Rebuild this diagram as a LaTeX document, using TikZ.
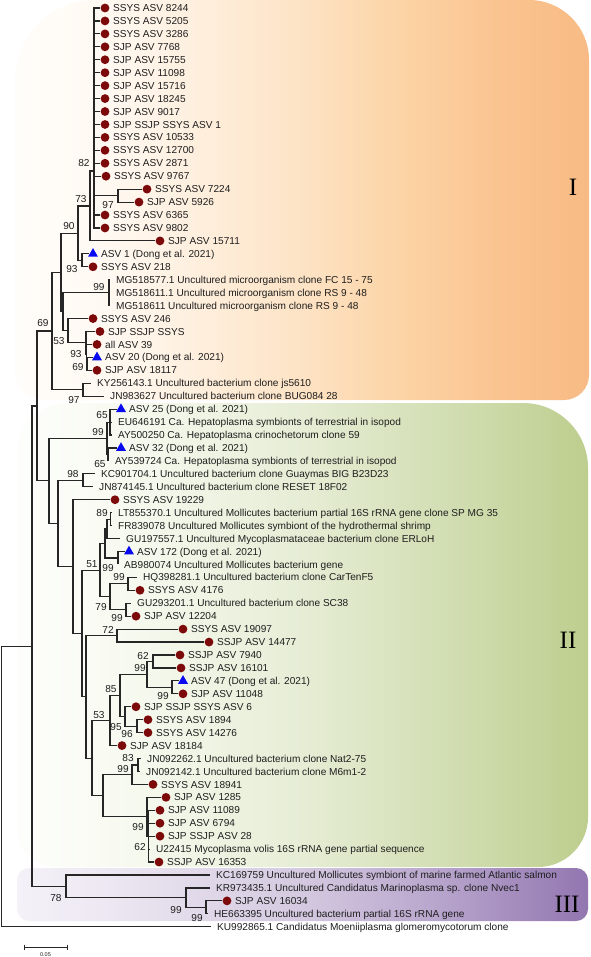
\documentclass[tikz,border=0pt]{standalone}
\usepackage{fontspec}
\setmainfont{Liberation Sans}
\newfontfamily\romanfont{Liberation Serif}
\usetikzlibrary{shapes.geometric,calc}

\definecolor{linec}{HTML}{262626}
\definecolor{dotc}{HTML}{7D0A0A}
\definecolor{tric}{HTML}{0A0AF0}
\definecolor{txtc}{HTML}{1E1E1E}
% orange
\definecolor{oZ}{HTML}{FFFDFA}
\definecolor{oA}{HTML}{FFF9F2}
\definecolor{oB}{HTML}{FDE3C5}
\definecolor{oC}{HTML}{FCD4A6}
\definecolor{oD}{HTML}{FAC38F}
\definecolor{oE}{HTML}{F8BB85}
% green
\definecolor{gZ}{HTML}{FDFEFB}
\definecolor{gA}{HTML}{F9FBF3}
\definecolor{gB}{HTML}{E6EDD5}
\definecolor{gC}{HTML}{D6E1BA}
\definecolor{gD}{HTML}{CAD8A5}
\definecolor{gE}{HTML}{BDCE8E}
% purple
\definecolor{pZ}{HTML}{F4F1F8}
\definecolor{pA}{HTML}{EDE8F2}
\definecolor{pB}{HTML}{D4C9E0}
\definecolor{pC}{HTML}{B6A3CB}
\definecolor{pE}{HTML}{9276B0}

\pgfdeclarehorizontalshading{shadeI}{100bp}{color(0bp)=(oZ); color(25bp)=(oZ); color(33bp)=(oA); color(50bp)=(oB); color(58.5bp)=(oC); color(67.5bp)=(oD); color(75bp)=(oE); color(100bp)=(oE)}
\pgfdeclarehorizontalshading{shadeII}{100bp}{color(0bp)=(gZ); color(25bp)=(gZ); color(32.5bp)=(gA); color(50bp)=(gB); color(60bp)=(gC); color(67.5bp)=(gD); color(75bp)=(gE); color(100bp)=(gE)}
\pgfdeclarehorizontalshading{shadeIII}{100bp}{color(0bp)=(pZ); color(25bp)=(pZ); color(32.5bp)=(pA); color(50bp)=(pB); color(62.5bp)=(pC); color(75bp)=(pE); color(100bp)=(pE)}

\tikzset{
  br/.style={draw=linec, line width=1.15pt},
  dotm/.style={circle, fill=dotc, inner sep=0pt, minimum size=8.8pt},
  trimark/.style={regular polygon, regular polygon sides=3, fill=tric, inner sep=0pt, minimum size=11.5pt},
  lbl/.style={anchor=west, inner xsep=0pt, inner ysep=0pt, text height=7.2pt, text depth=0pt, font=\fontsize{10.1}{12}\selectfont, text=txtc},
  bs/.style={inner sep=0pt, text height=7.2pt, text depth=0pt, font=\fontsize{10.1}{12}\selectfont, text=txtc},
  romanlbl/.style={font=\romanfont\fontsize{25}{30}\selectfont, text=black, inner sep=0pt}
}

\newcommand\LeafD[3]{\node[dotm] (m#1) at (#2,{8+(#1-1)*12.94}) {};
  \node[lbl] (t#1) at ({#2+8},{8+(#1-1)*12.94}) {#3};
  \coordinate (e#1) at (m#1.west);}
\newcommand\LeafT[3]{\node[trimark] (m#1) at (#2,{8+(#1-1)*12.94}) {};
  \node[lbl] (t#1) at ({#2+8},{8+(#1-1)*12.94}) {#3};
  \coordinate (e#1) at (m#1.west);}
\newcommand\LeafN[3]{\node[lbl,inner xsep=6pt] (t#1) at ({#2-6},{8+(#1-1)*12.94}) {#3};
  \coordinate (e#1) at (t#1.west);}
\newcommand\Int[4]{\path let \p1=(#3), \p2=(#4) in coordinate (#1) at (#2pt,{0.5*(\y1+\y2)});}
\newcommand\Kids[2]{\foreach \c in {#2} {\draw[br] (#1) |- (\c);}}
\newcommand\RBox[9]{\path[shading=#1] ({#2+#6},#3) -- ({#4-#7},#3) arc[start angle=270,end angle=360,radius=#7] -- (#4,{#5-#8}) arc[start angle=0,end angle=90,radius=#8] -- ({#2+#9},#5) arc[start angle=90,end angle=180,radius=#9] -- (#2,{#3+#6}) arc[start angle=180,end angle=270,radius=#6] -- cycle;}

\begin{document}
\begin{tikzpicture}[x=1pt,y=-1pt]
\fill[white] (0,0) rectangle (590,957);
\useasboundingbox (0,0) rectangle (590,957);

% clade boxes
\RBox{shadeI}{15}{0}{589}{400}{80}{60}{25}{30}
\RBox{shadeII}{17}{403}{588}{867}{50}{65}{50}{40}
\RBox{shadeIII}{17}{868}{588}{921}{12}{12}{12}{12}

% leaves
\LeafD{1}{105}{SSYS ASV 8244}
\LeafD{2}{105}{SSYS ASV 5205}
\LeafD{3}{105}{SSYS ASV 3286}
\LeafD{4}{105}{SJP ASV 7768}
\LeafD{5}{105}{SJP ASV 15755}
\LeafD{6}{105}{SJP ASV 11098}
\LeafD{7}{105}{SJP ASV 15716}
\LeafD{8}{105}{SJP ASV 18245}
\LeafD{9}{105}{SJP ASV 9017}
\LeafD{10}{105}{SJP SSJP SSYS ASV 1}
\LeafD{11}{105}{SSYS ASV 10533}
\LeafD{12}{105}{SSYS ASV 12700}
\LeafD{13}{105}{SSYS ASV 2871}
\LeafD{14}{106}{SSYS ASV 9767}
\LeafD{15}{147}{SSYS ASV 7224}
\LeafD{16}{139}{SJP ASV 5926}
\LeafD{17}{105}{SSYS ASV 6365}
\LeafD{18}{105}{SSYS ASV 9802}
\LeafD{19}{160}{SJP ASV 15711}
\LeafT{20}{93}{ASV 1 (Dong et al. 2021)}
\LeafD{21}{93}{SSYS ASV 218}
\LeafN{22}{116}{MG518577.1 Uncultured microorganism clone FC 15 - 75}
\LeafN{23}{116}{MG518611.1 Uncultured microorganism clone RS 9 - 48}
\LeafN{24}{116}{MG518611 Uncultured microorganism clone RS 9 - 48}
\LeafD{25}{93}{SSYS ASV 246}
\LeafD{26}{100}{SJP SSJP SSYS}
\LeafD{27}{97}{all ASV 39}
\LeafT{28}{97}{ASV 20 (Dong et al. 2021)}
\LeafD{29}{97}{SJP ASV 18117}
\LeafN{30}{97}{KY256143.1 Uncultured bacterium clone js5610}
\LeafN{31}{110}{JN983627 Uncultured bacterium clone BUG084 28}
\LeafT{32}{121}{ASV 25 (Dong et al. 2021)}
\LeafN{33}{118}{EU646191 Ca. Hepatoplasma symbionts of terrestrial in isopod}
\LeafN{34}{118}{AY500250 Ca. Hepatoplasma crinochetorum clone 59}
\LeafT{35}{121}{ASV 32 (Dong et al. 2021)}
\LeafN{36}{115}{AY539724 Ca. Hepatoplasma symbionts of terrestrial in isopod}
\LeafN{37}{101}{KC901704.1 Uncultured bacterium clone Guaymas BIG B23D23}
\LeafN{38}{99}{JN874145.1 Uncultured bacterium clone RESET 18F02}
\LeafD{39}{115}{SSYS ASV 19229}
\LeafN{40}{118}{LT855370.1 Uncultured Mollicutes bacterium partial 16S rRNA gene clone SP MG 35}
\LeafN{41}{118}{FR839078 Uncultured Mollicutes symbiont of the hydrothermal shrimp}
\LeafN{42}{126}{GU197557.1 Uncultured Mycoplasmataceae bacterium clone ERLoH}
\LeafT{43}{129}{ASV 172 (Dong et al. 2021)}
\LeafN{44}{124}{AB980074 Uncultured Mollicutes bacterium gene}
\LeafN{45}{143}{HQ398281.1 Uncultured bacterium clone CarTenF5}
\LeafD{46}{140}{SSYS ASV 4176}
\LeafN{47}{137}{GU293201.1 Uncultured bacterium clone SC38}
\LeafD{48}{136}{SJP ASV 12204}
\LeafD{49}{183}{SSYS ASV 19097}
\LeafD{50}{209}{SSJP ASV 14477}
\LeafD{51}{180}{SSJP ASV 7940}
\LeafD{52}{181}{SSJP ASV 16101}
\LeafT{53}{183}{ASV 47 (Dong et al. 2021)}
\LeafD{54}{183}{SJP ASV 11048}
\LeafD{55}{136}{SJP SSJP SSYS ASV 6}
\LeafD{56}{148}{SSYS ASV 1894}
\LeafD{57}{148}{SSYS ASV 14276}
\LeafD{58}{122}{SJP ASV 18184}
\LeafN{59}{147}{JN092262.1 Uncultured bacterium clone Nat2-75}
\LeafN{60}{146}{JN092142.1 Uncultured bacterium clone M6m1-2}
\LeafD{61}{153}{SSYS ASV 18941}
\LeafD{62}{166}{SJP ASV 1285}
\LeafD{63}{160}{SJP ASV 11089}
\LeafD{64}{160}{SJP ASV 6794}
\LeafD{65}{160}{SJP SSJP ASV 28}
\LeafN{66}{156}{U22415 Mycoplasma volis 16S rRNA gene partial sequence}
\LeafD{67}{159}{SSJP ASV 16353}
\LeafN{68}{216}{KC169759 Uncultured Mollicutes symbiont of marine farmed Atlantic salmon}
\LeafN{69}{216}{KR973435.1 Uncultured Candidatus Marinoplasma sp. clone Nvec1}
\LeafD{70}{227}{SJP ASV 16034}
\LeafN{71}{214}{HE663395 Uncultured bacterium partial 16S rRNA gene}
\LeafN{72}{217}{KU992865.1 Candidatus Moeniiplasma glomeromycotorum clone}

% internal nodes
\Int{N7224}{118}{e15}{e16}
\coordinate (P0) at (94,171);
\Int{N82}{90}{P0}{e19}
\Int{N93a}{82}{e20}{e21}
\Int{N73}{78}{N82}{N93a}
\Int{NMG}{109}{e22}{e24}
\Int{NC}{87}{e28}{e29}
\Int{NB}{86.5}{e27}{NC}
\Int{NA}{86}{e26}{NB}
\Int{N53}{68}{e25}{NA}
\Int{NCs}{63}{NMG}{N53}
\Int{N90}{61}{N73}{NCs}
\Int{NKY}{83}{e30}{e31}
\Int{N69}{52}{N90}{NKY}
\Int{N1}{110}{e32}{e34}
\Int{N2}{108}{e35}{e36}
\Int{N0}{107}{N1}{N2}
\Int{NKC}{83}{e37}{e38}
\Int{NLT}{110.5}{e40}{e41}
\Int{NGU}{107}{NLT}{e42}
\Int{N172}{118}{e43}{e44}
\Int{NA3}{105}{NGU}{N172}
\Int{NHQ}{128}{e45}{e46}
\Int{NGV}{126}{e47}{e48}
\Int{N79}{110}{NHQ}{NGV}
\Int{W}{100}{NA3}{N79}
\Int{N72}{117}{e49}{e50}
\Int{N62}{153}{e51}{e52}
\Int{N47}{172}{e53}{e54}
\Int{N99b}{147}{N62}{N47}
\Int{N96}{137}{e56}{e57}
\Int{N95}{125}{e55}{N96}
\Int{N85}{120}{N99b}{N95}
\Int{N53b}{110}{N85}{e58}
\Int{N83}{138}{e59}{e60}
\Int{N99c}{132}{N83}{e61}
\Int{NS2}{148.5}{e63}{e67}
\Int{NS1}{147}{e62}{NS2}
\Int{N103}{103}{N99c}{NS1}
\Int{N92}{92}{N53b}{N103}
\Int{N86}{86}{N72}{N92}
\Int{Z}{82}{W}{N86}
\Int{Y}{73}{e39}{Z}
\Int{X}{58}{NKC}{Y}
\Int{H}{49}{N0}{X}
\Int{Q}{37}{N69}{H}
\Int{N99e}{206}{e70}{e71}
\Int{N99d}{186}{e69}{N99e}
\Int{N78}{66}{e68}{N99d}
\Int{R}{32}{Q}{N78}
\Int{Root}{1.5}{R}{e72}

% branches
\Kids{P0}{e1,e2,e3,e4,e5,e6,e7,e8,e9,e10,e11,e12,e13,e14,N7224,e17,e18}
\Kids{N7224}{e15,e16}
\Kids{N82}{P0,e19}
\Kids{N93a}{e20,e21}
\Kids{N73}{N82,N93a}
\Kids{NMG}{e22,e23,e24}
\Kids{NC}{e28,e29}
\Kids{NB}{e27,NC}
\Kids{NA}{e26,NB}
\Kids{N53}{e25,NA}
\Kids{NCs}{NMG,N53}
\Kids{N90}{N73,NCs}
\Kids{NKY}{e30,e31}
\Kids{N69}{N90,NKY}
\Kids{N1}{e32,e33,e34}
\Kids{N2}{e35,e36}
\Kids{N0}{N1,N2}
\Kids{NKC}{e37,e38}
\Kids{NLT}{e40,e41}
\Kids{NGU}{NLT,e42}
\Kids{N172}{e43,e44}
\Kids{NA3}{NGU,N172}
\Kids{NHQ}{e45,e46}
\Kids{NGV}{e47,e48}
\Kids{N79}{NHQ,NGV}
\Kids{W}{NA3,N79}
\Kids{N72}{e49,e50}
\Kids{N62}{e51,e52}
\Kids{N47}{e53,e54}
\Kids{N99b}{N62,N47}
\Kids{N96}{e56,e57}
\Kids{N95}{e55,N96}
\Kids{N85}{N99b,N95}
\Kids{N53b}{N85,e58}
\Kids{N83}{e59,e60}
\Kids{N99c}{N83,e61}
\Kids{NS2}{e63,e64,e65,e66,e67}
\Kids{NS1}{e62,NS2}
\Kids{N103}{N99c,NS1}
\Kids{N92}{N53b,N103}
\Kids{N86}{N72,N92}
\Kids{Z}{W,N86}
\Kids{Y}{e39,Z}
\Kids{X}{NKC,Y}
\Kids{H}{N0,X}
\Kids{Q}{N69,H}
\Kids{N99e}{e70,e71}
\Kids{N99d}{e69,N99e}
\Kids{N78}{e68,N99d}
\Kids{R}{Q,N78}
\Kids{Root}{R,e72}

% bootstrap values
\node[bs] (b1) at (84,163) {82};
\node[bs] (b2) at (108,205) {97};
\node[bs] (b3) at (81,199) {73};
\node[bs] (b4) at (69,226) {90};
\node[bs] (b5) at (72,269) {93};
\node[bs] (b6) at (99,287) {99};
\node[bs] (b7) at (43,323) {69};
\node[bs] (b8) at (59,341) {53};
\node[bs] (b9) at (76,354) {93};
\node[bs] (b10) at (78,367) {69};
\node[bs] (b11) at (74,400) {97};
\node[bs] (b12) at (102,415) {65};
\node[bs] (b13) at (98,432) {99};
\node[bs] (b14) at (100,464) {65};
\node[bs] (b15) at (73,474) {98};
\node[bs] (b16) at (102,513) {89};
\node[bs] (b17) at (92,564) {51};
\node[bs] (b18) at (108,568) {99};
\node[bs] (b19) at (119,577) {99};
\node[bs] (b20) at (101,607) {79};
\node[bs] (b21) at (117,618) {99};
\node[bs] (b22) at (108,630) {72};
\node[bs] (b23) at (143,656) {62};
\node[bs] (b24) at (140,668) {99};
\node[bs] (b25) at (111,689) {85};
\node[bs] (b26) at (163,696) {99};
\node[bs] (b27) at (99,715) {53};
\node[bs] (b28) at (116,727) {95};
\node[bs] (b29) at (127,734) {96};
\node[bs] (b30) at (128,758) {83};
\node[bs] (b31) at (123,769) {99};
\node[bs] (b32) at (138,827) {99};
\node[bs] (b33) at (140,847) {62};
\node[bs] (b34) at (56,898) {78};
\node[bs] (b35) at (176,910) {99};
\node[bs] (b36) at (197,918) {99};

% clade numerals
\node[romanlbl] (cI) at (573,187) {I};
\node[romanlbl] (cII) at (568,640) {II};
\node[romanlbl] (cIII) at (567,904) {III};

% scale bar
\coordinate (sbA) at (24,947);
\coordinate (sbB) at (67,947);
\draw[br, line width=0.9pt] (sbA) -- (sbB);
\draw[br, line width=0.9pt] ($(sbA)+(0,-2.5)$) -- ($(sbA)+(0,2.5)$);
\draw[br, line width=0.9pt] ($(sbB)+(0,-2.5)$) -- ($(sbB)+(0,2.5)$);
\node[inner sep=0pt, font=\fontsize{5.5}{6}\selectfont, text=txtc] (sbl) at (45.5,955) {0.05};
\end{tikzpicture}
\end{document}
